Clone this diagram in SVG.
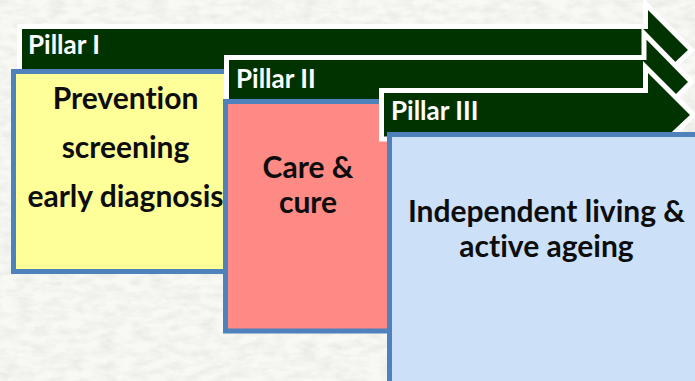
<svg xmlns="http://www.w3.org/2000/svg" width="695" height="381" viewBox="0 0 695 381">
<style>
.arrow{fill:#003300;stroke:#fff;stroke-width:5;stroke-linejoin:miter}
.box{stroke:#4f81bd;stroke-width:5}
text{font-family:Lato,"Liberation Sans",sans-serif;font-weight:700;font-variant-ligatures:none}
.p{fill:#fff;font-size:26px}
.t{fill:#0d0d0d;font-size:30px;text-anchor:middle}
</style>
<defs>
<filter id="tex" x="0" y="0" width="100%" height="100%">
<feTurbulence type="fractalNoise" baseFrequency="0.06 0.14" numOctaves="4" seed="4"/>
<feColorMatrix type="matrix" values="0 0 0 0 0.5 0 0 0 0 0.5 0 0 0 0 0.45 1.2 0 0 0 -0.42"/>
</filter>
</defs>
<rect width="695" height="381" fill="#f8f8f4"/>
<rect width="695" height="381" filter="url(#tex)" opacity="0.35"/>
<g id="pillar1">
<path class="arrow" d="M19.500 26.500H645.500V4L691.500 50L675 65.500L630 80H19.500Z"/>
<text class="p" x="28" y="54">Pillar I</text>
</g>
<g id="box1">
<rect class="box" x="13.500" y="71.500" width="230" height="200" fill="#ffff99"/>
<text class="t" x="125.500" y="109">Prevention</text>
<text class="t" x="125.500" y="158">screening</text>
<text class="t" x="125.500" y="207">early diagnosis</text>
</g>
<g id="pillar2">
<path class="arrow" d="M226.500 57.500H644V33.500L691.500 82L677 96.500L640 110H226.500Z"/>
<text class="p" x="236" y="88">Pillar II</text>
</g>
<g id="box2">
<rect class="box" x="225.500" y="101.500" width="175" height="229.500" fill="#fd8a85"/>
<text class="t" x="308" y="178">Care &amp;</text>
<text class="t" x="308" y="213">cure</text>
</g>
<g id="pillar3">
<path class="arrow" d="M381.500 90.500H645.500V67L693.500 115L668 139H381.500Z"/>
<text class="p" x="391" y="120">Pillar III</text>
</g>
<g id="box3">
<rect class="box" x="389.500" y="134.500" width="320" height="260" fill="#cce0f8"/>
<text class="t" x="546.500" y="222">Independent living &amp;</text>
<text class="t" x="546.500" y="257">active ageing</text>
</g>
<g id="connectors"/>
</svg>
